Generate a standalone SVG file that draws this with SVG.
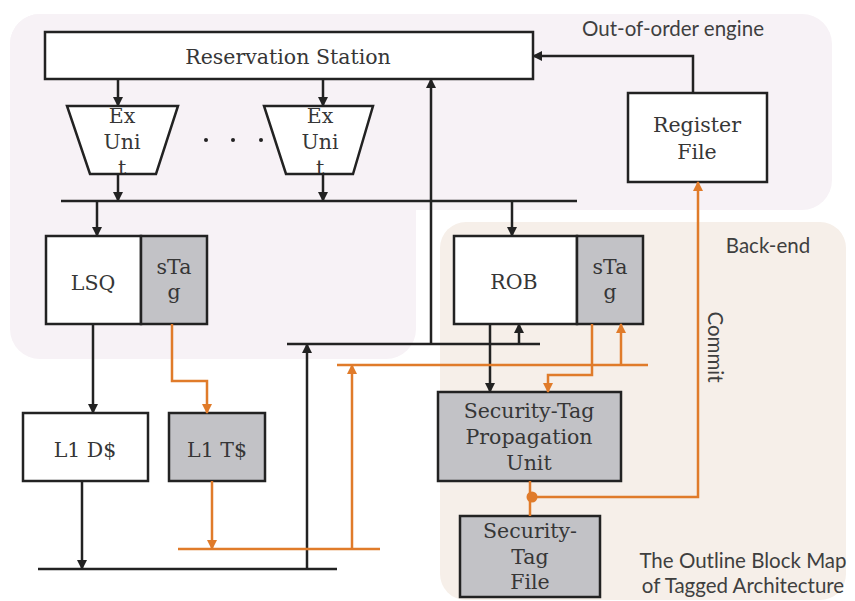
<svg xmlns="http://www.w3.org/2000/svg" width="855" height="601" viewBox="0 0 855 601">
<style>
.box{fill:#ffffff;stroke:#222;stroke-width:2.5}
.gray{fill:#c2c2c6;stroke:#222;stroke-width:2.5}
.lbl{font-family:"DejaVu Serif","Liberation Serif",serif;font-size:20.5px;fill:#363636;text-anchor:middle}
.sans{font-family:Lato,"Open Sans",sans-serif;font-size:20.5px;fill:#3f3f3f}
.blk{fill:none;stroke:#222;stroke-width:2.5}
.org{fill:none;stroke:#e07b2a;stroke-width:2.5}
.ab{marker-end:url(#ab)}
.ao{marker-end:url(#ao)}
</style>
<defs>
<marker id="ab" viewBox="0 0 10 10" refX="9" refY="5" markerWidth="4" markerHeight="4" orient="auto" markerUnits="strokeWidth">
<path d="M0,0 L10,5 L0,10 z" fill="#222"/>
</marker>
<marker id="ao" viewBox="0 0 10 10" refX="9" refY="5" markerWidth="4" markerHeight="4" orient="auto" markerUnits="strokeWidth">
<path d="M0,0 L10,5 L0,10 z" fill="#e07b2a"/>
</marker>
<clipPath id="ex1c"><polygon points="67,106 178,106 156,174 90,174"/></clipPath>
<clipPath id="ex2c"><polygon points="264,106 373,106 353,174 286,174"/></clipPath>
</defs>

<g id="regions">
<rect x="10" y="14" width="822" height="196" rx="30" fill="#f7f2f6"/>
<rect x="10" y="14" width="406" height="345" rx="30" fill="#f7f2f6"/>
<rect x="440" y="222" width="406" height="378" rx="26" fill="#f6efe9"/>
<text class="sans" x="673" y="36" text-anchor="middle">Out-of-order engine</text>
<text class="sans" x="768" y="253" text-anchor="middle">Back-end</text>
<text class="sans" transform="translate(708,347) rotate(90)" text-anchor="middle" font-size="21.5">Commit</text>
<text class="sans" x="743" y="568" text-anchor="middle" font-size="21">The Outline Block Map</text>
<text class="sans" x="743" y="593" text-anchor="middle" font-size="21">of Tagged Architecture</text>
</g>

<g id="rs">
<rect class="box" x="45" y="32" width="488" height="47"/>
<text class="lbl" x="288" y="64">Reservation Station</text>
</g>

<g id="ex1">
<polygon points="67,106 178,106 156,174 90,174" fill="#fff"/>
<g clip-path="url(#ex1c)">
<text class="lbl" x="122" y="123">Ex</text>
<text class="lbl" x="122" y="149">Uni</text>
<text class="lbl" x="122" y="175">t</text>
</g>
<polygon points="67,106 178,106 156,174 90,174" fill="none" stroke="#222" stroke-width="2.5"/>
</g>

<g id="ex2">
<polygon points="264,106 373,106 353,174 286,174" fill="#fff"/>
<g clip-path="url(#ex2c)">
<text class="lbl" x="320" y="123">Ex</text>
<text class="lbl" x="320" y="149">Uni</text>
<text class="lbl" x="320" y="175">t</text>
</g>
<polygon points="264,106 373,106 353,174 286,174" fill="none" stroke="#222" stroke-width="2.5"/>
</g>

<g id="dots" fill="#222">
<circle cx="206" cy="140" r="2"/>
<circle cx="233" cy="140" r="2"/>
<circle cx="261" cy="140" r="2"/>
</g>

<g id="regfile">
<rect class="box" x="628" y="93" width="139" height="89"/>
<text class="lbl" x="697" y="132">Register</text>
<text class="lbl" x="697" y="159">File</text>
</g>

<g id="lsq">
<rect class="box" x="46" y="236" width="95" height="88"/>
<rect class="gray" x="141" y="236" width="66" height="88"/>
<text class="lbl" x="93" y="290">LSQ</text>
<text class="lbl" x="174" y="274">sTa</text>
<text class="lbl" x="174" y="299">g</text>
</g>

<g id="rob">
<rect class="box" x="454" y="236" width="123" height="88"/>
<rect class="gray" x="577" y="236" width="66" height="88"/>
<text class="lbl" x="514" y="289">ROB</text>
<text class="lbl" x="610" y="274">sTa</text>
<text class="lbl" x="610" y="299">g</text>
</g>

<g id="l1d">
<rect class="box" x="23" y="413" width="125" height="68"/>
<text class="lbl" x="85" y="457">L1 D$</text>
</g>

<g id="l1t">
<rect class="gray" x="169" y="413" width="96" height="68"/>
<text class="lbl" x="217" y="457">L1 T$</text>
</g>

<g id="stpu">
<rect class="gray" x="438" y="392" width="183" height="89"/>
<text class="lbl" x="529" y="418">Security-Tag</text>
<text class="lbl" x="529" y="444">Propagation</text>
<text class="lbl" x="529" y="470">Unit</text>
</g>

<g id="stf">
<rect class="gray" x="460" y="516" width="140" height="81"/>
<text class="lbl" x="530" y="538">Security-</text>
<text class="lbl" x="530" y="564">Tag</text>
<text class="lbl" x="530" y="589">File</text>
</g>

<g id="connectors">
<path class="blk ab" d="M118,79 V106"/>
<path class="blk ab" d="M323,79 V106"/>
<path class="blk ab" d="M118,174 V201"/>
<path class="blk ab" d="M323,174 V201"/>
<path class="blk" d="M61,201 H577"/>
<path class="blk ab" d="M97,201 V236"/>
<path class="blk ab" d="M512,201 V236"/>
<path class="blk ab" d="M431,344 V79"/>
<path class="blk" d="M287,344 H540"/>
<path class="blk ab" d="M519,344 V324"/>
<path class="blk ab" d="M307,569 V344"/>
<path class="blk" d="M38,569 H337"/>
<path class="blk ab" d="M93,324 V413"/>
<path class="blk ab" d="M82,481 V569"/>
<path class="blk ab" d="M490,324 V392"/>
<path class="blk ab" d="M693,93 V56 H533"/>

<path class="org ao" d="M172,324 V381 H207 V413"/>
<path class="org ao" d="M212,481 V549"/>
<path class="org" d="M178,549 H380"/>
<path class="org ao" d="M352,549 V365"/>
<path class="org" d="M337,365 H648"/>
<path class="org ao" d="M592,324 V375 H548 V392"/>
<path class="org ao" d="M621,365 V324"/>
<path class="org ao" d="M532,497 H698 V182"/>
<path class="org" d="M530,481 V516"/>
<circle cx="532" cy="497" r="5.5" fill="#e07b2a"/>
</g>
</svg>
